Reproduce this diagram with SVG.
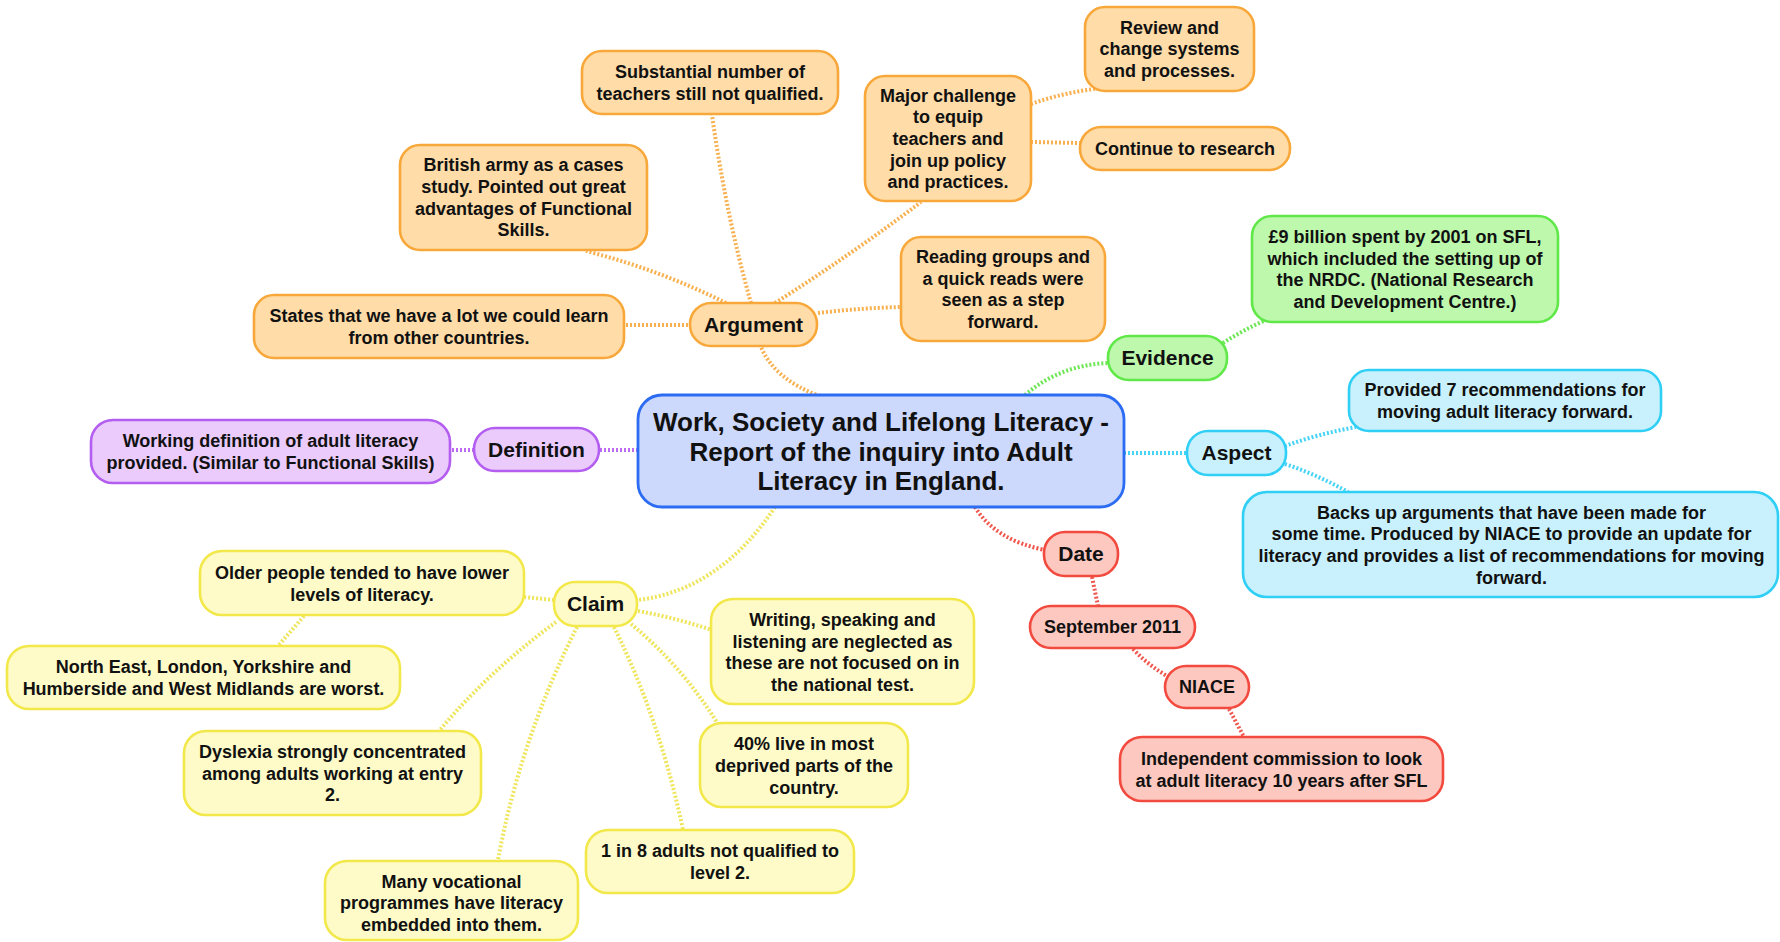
<svg xmlns="http://www.w3.org/2000/svg" width="1780" height="942" viewBox="0 0 1780 942">
  <style>
    text { font-family: "Liberation Sans", Arial, sans-serif; font-weight: bold; fill: #111; text-anchor: middle; }
    .t { font-size: 18px; }
    .b { font-size: 21px; }
    .m { font-size: 26px; }
    rect { stroke-width: 2.6; }
    .org rect { fill: #ffdca8; stroke: #f8a83a; }
    .grn rect { fill: #bdf8ad; stroke: #5fe848; }
    .cya rect { fill: #c9f1fd; stroke: #30cff5; }
    .pur rect { fill: #eacbfc; stroke: #b35ef0; }
    .red rect { fill: #fdc8bf; stroke: #f34a3f; }
    .yel rect { fill: #fefbc8; stroke: #f2e84a; }
    .cen rect { fill: #ccd8fc; stroke: #2b6cf2; stroke-width: 2.8; }
    #connectors path { fill: none; stroke-width: 4; stroke-dasharray: 2 2; }
    .co { stroke: #f8b04e; }
    .cg { stroke: #6ee655; }
    .cc { stroke: #45d3f6; }
    .cp { stroke: #bd6cf2; }
    .cr { stroke: #f0564b; }
    .cy { stroke: #efe55a; }
  </style>

  <g id="connectors">
    <!-- Argument branch -->
    <path class="co" d="M 820 396 Q 775 380 761 347"/>
    <path class="co" d="M 751 303 Q 726 215 712 115"/>
    <path class="co" d="M 726 303 Q 660 270 586 251"/>
    <path class="co" d="M 692 325 L 626 325"/>
    <path class="co" d="M 775 303 Q 852 254 921 202"/>
    <path class="co" d="M 818 313 Q 860 308 902 307"/>
    <path class="co" d="M 1031 104 Q 1065 92 1102 88"/>
    <path class="co" d="M 1031 142 L 1080 143"/>
    <!-- Evidence branch -->
    <path class="cg" d="M 1025 395 Q 1060 365 1108 363"/>
    <path class="cg" d="M 1223 343 Q 1243 330 1266 320"/>
    <!-- Aspect branch -->
    <path class="cc" d="M 1124 453 L 1187 453"/>
    <path class="cc" d="M 1285 446 Q 1318 434 1356 427"/>
    <path class="cc" d="M 1285 464 Q 1318 475 1348 492"/>
    <!-- Definition branch -->
    <path class="cp" d="M 638 450 L 599 450"/>
    <path class="cp" d="M 474 450 L 450 450"/>
    <!-- Date branch -->
    <path class="cr" d="M 975 507 Q 995 540 1045 550"/>
    <path class="cr" d="M 1092 577 L 1098 606"/>
    <path class="cr" d="M 1133 649 Q 1148 665 1167 676"/>
    <path class="cr" d="M 1229 709 L 1244 737"/>
    <!-- Claim branch -->
    <path class="cy" d="M 775 507 Q 720 590 638 600"/>
    <path class="cy" d="M 554 600 L 524 597"/>
    <path class="cy" d="M 304 616 L 278 646"/>
    <path class="cy" d="M 638 611 Q 676 618 712 630"/>
    <path class="cy" d="M 631 624 Q 682 666 718 724"/>
    <path class="cy" d="M 614 627 Q 660 720 683 830"/>
    <path class="cy" d="M 577 627 Q 520 740 498 860"/>
    <path class="cy" d="M 556 622 Q 490 670 439 731"/>
  </g>

  <g id="root" class="cen">
    <rect x="638" y="395" width="486" height="112" rx="24"/>
    <text class="m" x="881" y="431">Work, Society and Lifelong Literacy -<tspan x="881" dy="29.5">Report of the inquiry into Adult</tspan><tspan x="881" dy="29.5">Literacy in England.</tspan></text>
  </g>

  <!-- Argument -->
  <g id="argument" class="org">
    <rect x="690" y="303" width="127" height="43" rx="21"/>
    <text class="b" x="753.5" y="332">Argument</text>
  </g>
  <g id="substantial" class="org">
    <rect x="582" y="51" width="256" height="63" rx="20"/>
    <text class="t" x="710" y="78">Substantial number of<tspan x="710" dy="21.7">teachers still not qualified.</tspan></text>
  </g>
  <g id="british-army" class="org">
    <rect x="400" y="145" width="247" height="105" rx="20"/>
    <text class="t" x="523.5" y="171.3">British army as a cases<tspan x="523.5" dy="21.7">study. Pointed out great</tspan><tspan x="523.5" dy="21.7">advantages of Functional</tspan><tspan x="523.5" dy="21.7">Skills.</tspan></text>
  </g>
  <g id="other-countries" class="org">
    <rect x="254" y="295" width="370" height="63" rx="20"/>
    <text class="t" x="439" y="322">States that we have a lot we could learn<tspan x="439" dy="21.7">from other countries.</tspan></text>
  </g>
  <g id="major-challenge" class="org">
    <rect x="865" y="76" width="166" height="125" rx="20"/>
    <text class="t" x="948" y="101.5">Major challenge<tspan x="948" dy="21.7">to equip</tspan><tspan x="948" dy="21.7">teachers and</tspan><tspan x="948" dy="21.7">join up policy</tspan><tspan x="948" dy="21.7">and practices.</tspan></text>
  </g>
  <g id="review" class="org">
    <rect x="1085" y="7" width="169" height="84" rx="20"/>
    <text class="t" x="1169.5" y="33.6">Review and<tspan x="1169.5" dy="21.7">change systems</tspan><tspan x="1169.5" dy="21.7">and processes.</tspan></text>
  </g>
  <g id="research" class="org">
    <rect x="1080" y="127" width="210" height="43" rx="21"/>
    <text class="t" x="1185" y="154.8">Continue to research</text>
  </g>
  <g id="reading-groups" class="org">
    <rect x="901" y="237" width="204" height="104" rx="20"/>
    <text class="t" x="1003" y="262.8">Reading groups and<tspan x="1003" dy="21.7">a quick reads were</tspan><tspan x="1003" dy="21.7">seen as a step</tspan><tspan x="1003" dy="21.7">forward.</tspan></text>
  </g>

  <!-- Evidence -->
  <g id="evidence" class="grn">
    <rect x="1108" y="336" width="119" height="44" rx="21"/>
    <text class="b" x="1167.5" y="365.4">Evidence</text>
  </g>
  <g id="sfl-spend" class="grn">
    <rect x="1252" y="216" width="306" height="106" rx="20"/>
    <text class="t" x="1405" y="243">£9 billion spent by 2001 on SFL,<tspan x="1405" dy="21.7">which included the setting up of</tspan><tspan x="1405" dy="21.7">the NRDC. (National Research</tspan><tspan x="1405" dy="21.7">and Development Centre.)</tspan></text>
  </g>

  <!-- Aspect -->
  <g id="aspect" class="cya">
    <rect x="1187" y="431" width="99" height="44" rx="21"/>
    <text class="b" x="1236.5" y="460.4">Aspect</text>
  </g>
  <g id="recommendations" class="cya">
    <rect x="1349" y="370" width="312" height="61" rx="20"/>
    <text class="t" x="1505" y="396">Provided 7 recommendations for<tspan x="1505" dy="21.7">moving adult literacy forward.</tspan></text>
  </g>
  <g id="backs-up" class="cya">
    <rect x="1243" y="492" width="535" height="105" rx="24"/>
    <text class="t" x="1511.5" y="518.6">Backs up arguments that have been made for<tspan x="1511.5" dy="21.7">some time. Produced by NIACE to provide an update for</tspan><tspan x="1511.5" dy="21.7">literacy and provides a list of recommendations for moving</tspan><tspan x="1511.5" dy="21.7">forward.</tspan></text>
  </g>

  <!-- Definition -->
  <g id="definition" class="pur">
    <rect x="474" y="428" width="125" height="43" rx="21"/>
    <text class="b" x="536.5" y="456.9">Definition</text>
  </g>
  <g id="working-definition" class="pur">
    <rect x="91" y="420" width="359" height="63" rx="22"/>
    <text class="t" x="270.5" y="447">Working definition of adult literacy<tspan x="270.5" dy="21.7">provided. (Similar to Functional Skills)</tspan></text>
  </g>

  <!-- Date -->
  <g id="date" class="red">
    <rect x="1044" y="532" width="74" height="44" rx="21"/>
    <text class="b" x="1081" y="561.4">Date</text>
  </g>
  <g id="september" class="red">
    <rect x="1030" y="606" width="165" height="42" rx="21"/>
    <text class="t" x="1112.5" y="633.3">September 2011</text>
  </g>
  <g id="niace" class="red">
    <rect x="1165" y="666" width="84" height="42" rx="21"/>
    <text class="t" x="1207" y="693.3">NIACE</text>
  </g>
  <g id="commission" class="red">
    <rect x="1120" y="737" width="323" height="64" rx="22"/>
    <text class="t" x="1281.5" y="764.8">Independent commission to look<tspan x="1281.5" dy="21.7">at adult literacy 10 years after SFL</tspan></text>
  </g>

  <!-- Claim -->
  <g id="claim" class="yel">
    <rect x="554" y="582" width="83" height="44" rx="21"/>
    <text class="b" x="595.5" y="611.4">Claim</text>
  </g>
  <g id="older-people" class="yel">
    <rect x="200" y="551" width="324" height="64" rx="22"/>
    <text class="t" x="362" y="579">Older people tended to have lower<tspan x="362" dy="21.7">levels of literacy.</tspan></text>
  </g>
  <g id="regions" class="yel">
    <rect x="7" y="646" width="393" height="63" rx="22"/>
    <text class="t" x="203.5" y="673.3">North East, London, Yorkshire and<tspan x="203.5" dy="21.7">Humberside and West Midlands are worst.</tspan></text>
  </g>
  <g id="dyslexia" class="yel">
    <rect x="184" y="731" width="297" height="84" rx="22"/>
    <text class="t" x="332.5" y="758">Dyslexia strongly concentrated<tspan x="332.5" dy="21.7">among adults working at entry</tspan><tspan x="332.5" dy="21.7">2.</tspan></text>
  </g>
  <g id="vocational" class="yel">
    <rect x="325" y="861" width="253" height="79" rx="22"/>
    <text class="t" x="451.5" y="887.5">Many vocational<tspan x="451.5" dy="21.7">programmes have literacy</tspan><tspan x="451.5" dy="21.7">embedded into them.</tspan></text>
  </g>
  <g id="one-in-eight" class="yel">
    <rect x="586" y="830" width="268" height="63" rx="22"/>
    <text class="t" x="720" y="857.3">1 in 8 adults not qualified to<tspan x="720" dy="21.7">level 2.</tspan></text>
  </g>
  <g id="deprived" class="yel">
    <rect x="700" y="723" width="208" height="84" rx="22"/>
    <text class="t" x="804" y="750.3">40% live in most<tspan x="804" dy="21.7">deprived parts of the</tspan><tspan x="804" dy="21.7">country.</tspan></text>
  </g>
  <g id="writing" class="yel">
    <rect x="711" y="599" width="263" height="105" rx="22"/>
    <text class="t" x="842.5" y="626">Writing, speaking and<tspan x="842.5" dy="21.7">listening are neglected as</tspan><tspan x="842.5" dy="21.7">these are not focused on in</tspan><tspan x="842.5" dy="21.7">the national test.</tspan></text>
  </g>
</svg>
